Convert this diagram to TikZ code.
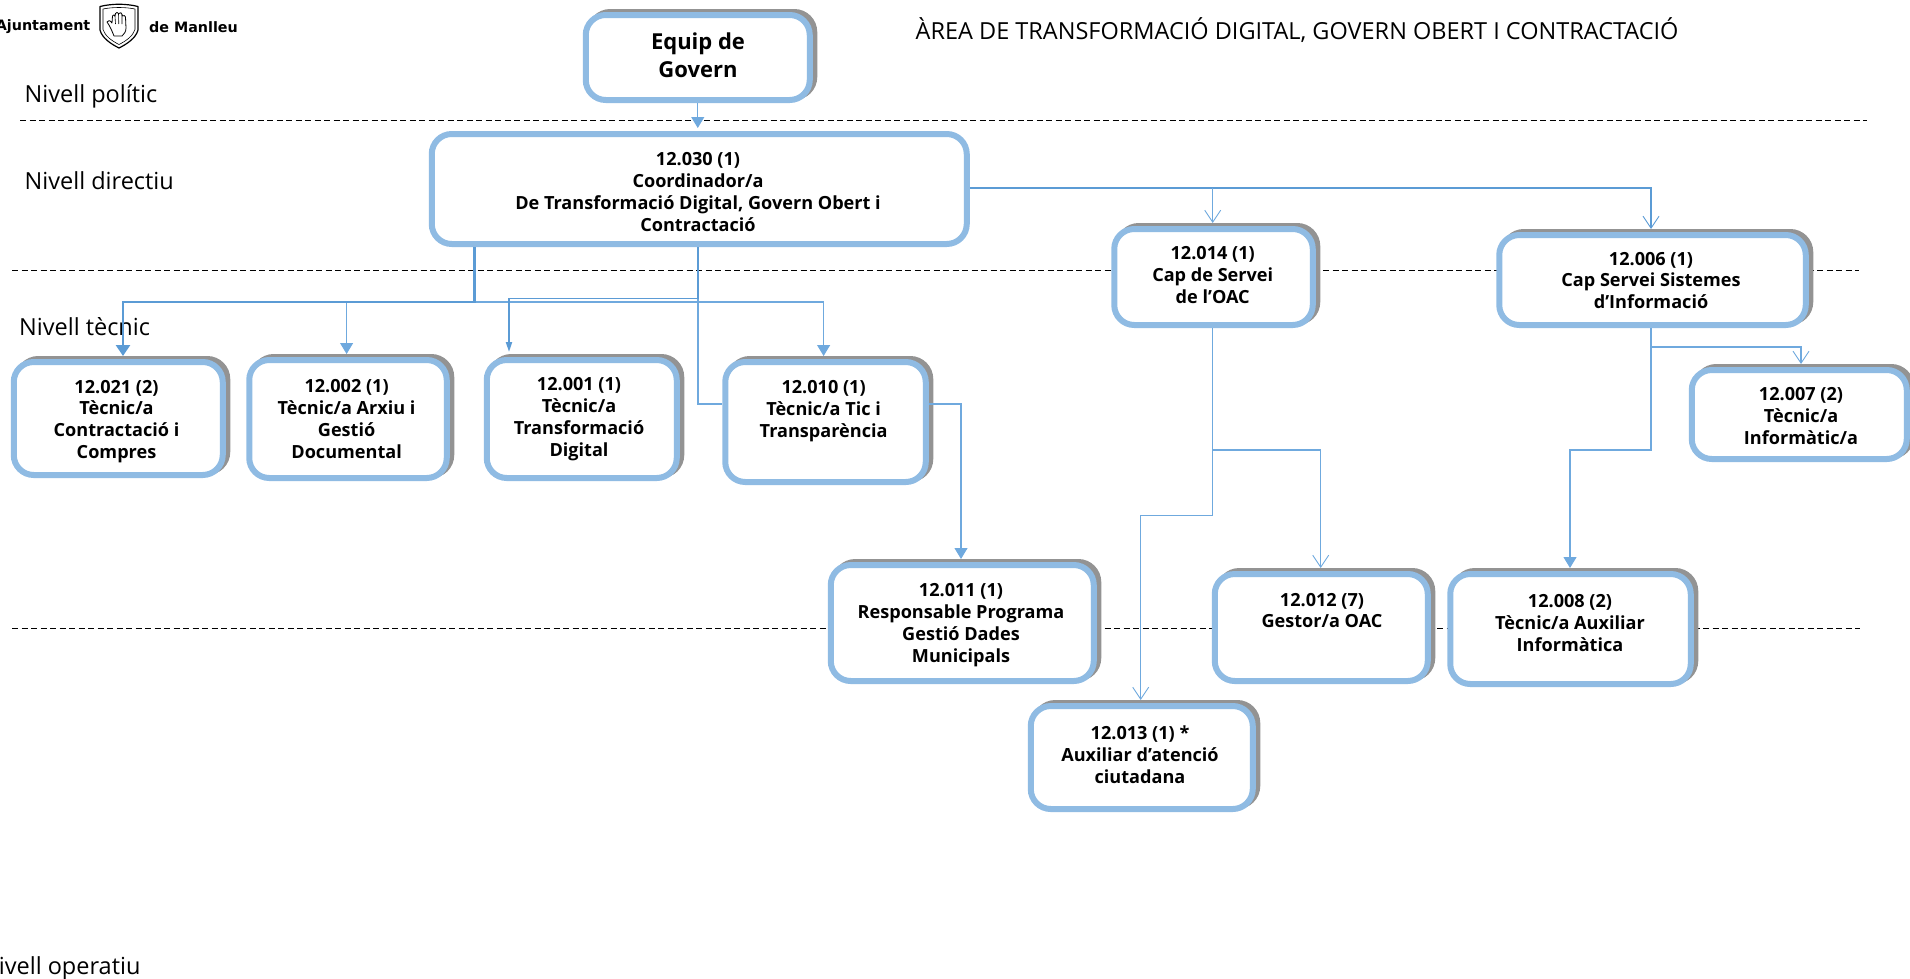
\documentclass[tikz,border=0pt]{standalone}
\usepackage{fontspec}
\setmainfont{Open Sans}
\newfontfamily\logofont{DejaVu Sans}
\usetikzlibrary{arrows.meta,shadows}
\definecolor{boxblue}{HTML}{8FBBE3}
\definecolor{connblue}{HTML}{5B9BD5}
\definecolor{thinblue}{HTML}{6FA9DE}
\definecolor{shadowgrey}{HTML}{939393}
\tikzset{
  boxplain/.style={draw=boxblue,line width=6pt,fill=white,rounded corners=20pt,inner sep=0pt},
  boxs/.style={boxplain,copy shadow={shadow xshift=4.5pt,shadow yshift=3pt,draw=shadowgrey,fill=shadowgrey}},
  boxtext/.style={align=center,font=\bfseries\fontsize{18.1}{21.9}\selectfont,inner sep=0pt},
  leveltext/.style={anchor=west,font=\fontsize{23.5}{28}\selectfont,inner sep=0pt},
  levelline/.style={draw=black,line width=1pt,dash pattern=on 6pt off 3.5pt},
  conn/.style={draw=thinblue,line width=1.1pt},
  filledtip/.style={-{Triangle[width=13pt,length=11pt]},shorten >=3pt},
  opentip/.style={-{Straight Barb[width=16pt,length=12pt,line width=.9pt]},shorten >=3pt},
  heavy/.style={draw=connblue,line width=2.6pt,-{Triangle[width=14pt,length=11pt]},shorten >=3pt},
  medium/.style={draw=connblue,line width=1.8pt,-{Triangle[width=6pt,length=10pt]},shorten >=5pt},
  logotext/.style={font=\logofont\bfseries\fontsize{14.3}{17}\selectfont,inner sep=0pt}
}
\newcommand\orgbox[9][boxs]{%
  \node[#1,minimum width={(#5-#3+1.5)*1pt},minimum height={(#6-#4)*1pt}] (#2) at ({(#3+#5)/2},{(#4+#6)/2}) {};
  \node[boxtext] (#2t) at (#7,#8) {#9};
}
\begin{document}
\begin{tikzpicture}[x=1pt,y=-1pt]
\useasboundingbox (0,0) rectangle (1910,978);
% level lines
\coordinate (la) at (20,120); \coordinate (lb) at (1867,120);
\coordinate (lc) at (12,270); \coordinate (ld) at (1859,270);
\coordinate (le) at (12,628); \coordinate (lf) at (1860,628);
\draw[levelline] (la) -- (lb);
\draw[levelline] (lc) -- (ld);
\draw[levelline] (le) -- (lf);
% logo
\node[logotext,anchor=east] (logoa) at (90.5,27) {Ajuntament};
\node[logotext,anchor=west] (logob) at (149,27) {de Manlleu};
\draw[line width=1.2pt,line join=round] (100,6.5) .. controls (112,3.5) and (126,3.5) .. (138,6.5) -- (138,30) .. controls (136,38) and (127,44) .. (119,48) .. controls (111,44) and (102,38) .. (100,30) -- cycle;
\draw[line width=.6pt,line join=round] (103,9) .. controls (113,7) and (125,7) .. (135,9) -- (135,29.5) .. controls (133,36) and (126,41) .. (119,44.5) .. controls (112,41) and (105,36) .. (103,29.5) -- cycle;
\draw[line width=.8pt,line join=round,fill=white] (114,36) .. controls (112,31) and (110,26) .. (107,22) .. controls (108,20) and (110,20) .. (112,23) -- (112.5,16) .. controls (113,14.5) and (115,14.5) .. (115,16) -- (115.5,13.5) .. controls (116,12) and (118,12) .. (118.5,13.5) -- (119,13.5) .. controls (120,12) and (122,12.5) .. (122,14.5) -- (122.5,16) .. controls (123.5,15) and (125.5,15.5) .. (125.5,17) -- (126,28) .. controls (126,32) and (124,34) .. (122,36) -- cycle;
\draw[line width=.6pt] (115,16) -- (115.5,24) (118.5,13.5) -- (118.8,24) (122,14.5) -- (122,24);
% level labels
\node[leveltext] (lv1) at (24.5,96) {Nivell polític};
\node[leveltext] (lv2) at (24.5,181) {Nivell directiu};
\node[leveltext] (lv3) at (19,327) {Nivell tècnic};
\node[leveltext] (lv4) at (-19,968) {Nivell operatiu};
\node[leveltext] (title) at (915.5,30) {ÀREA DE TRANSFORMACIÓ DIGITAL, GOVERN OBERT I CONTRACTACIÓ};
% boxes
\node[boxs,minimum width=224pt,minimum height=85pt] (eq) at (697.75,57.5) {};
\node[boxtext,font=\bfseries\fontsize{22}{27.6}\selectfont] (eqt) at (698,55.5) {Equip de\\Govern};
\orgbox[boxplain]{c030}{432.5}{134}{966}{244}{698}{192}{12.030 (1)\\Coordinador/a\\De Transformació Digital, Govern Obert i\\Contractació}
\orgbox{c021}{14.5}{362}{222}{475}{116.5}{421.5}{12.021 (2)\\Tècnic/a\\Contractació i\\Compres}
\orgbox{c002}{250}{360}{446}{478}{346.6}{419}{12.002 (1)\\Tècnic/a Arxiu i\\Gestió\\Documental}
\orgbox{c001}{487.5}{360}{676}{478}{579}{419}{12.001 (1)\\Tècnic/a\\Transformació\\Digital}
\orgbox{c010}{726}{362}{925}{482}{823.6}{411.5}{12.010 (1)\\Tècnic/a Tic i\\Transparència}
\orgbox{c014}{1115}{229}{1312}{325}{1212.7}{275}{12.014 (1)\\Cap de Servei\\de l’OAC}
\orgbox{c006}{1500}{235}{1805}{325}{1651}{280.5}{12.006 (1)\\Cap Servei Sistemes\\d’Informació}
\orgbox{c007}{1692.5}{370}{1906}{459}{1801}{416}{12.007 (2)\\Tècnic/a\\Informàtic/a}
\orgbox{c011}{831.5}{565}{1093}{681}{961}{625}{12.011 (1)\\Responsable Programa\\Gestió Dades\\Municipals}
\orgbox{c012}{1215.5}{574}{1427}{681}{1322}{610.5}{12.012 (7)\\Gestor/a OAC}
\orgbox{c008}{1451}{574}{1690}{684}{1570}{623}{12.008 (2)\\Tècnic/a Auxiliar\\Informàtica}
\orgbox{c013}{1031.5}{706}{1252}{809}{1140}{755}{12.013 (1) *\\Auxiliar d’atenció\\ciutadana}
% junctions
\coordinate (j1) at (474.6,302);
\coordinate (k1) at (123,302);
\coordinate (k2) at (346.6,302);
\coordinate (k4) at (698,302);
\coordinate (k5) at (823.6,302);
\coordinate (j2) at (698,298.5);
\coordinate (k3) at (509,298.5);
\coordinate (j3) at (698,404);
\coordinate (k6) at (961,404);
\coordinate (h1) at (1651,188);
\coordinate (h2) at (1212.7,188);
\coordinate (m1) at (1212.7,515.7);
\coordinate (m2) at (1140.7,515.7);
\coordinate (m3) at (1212.7,450);
\coordinate (m4) at (1320.7,450);
\coordinate (n1) at (1651,450);
\coordinate (n2) at (1570,450);
\coordinate (n3) at (1651,347);
\coordinate (n4) at (1801,347);
% connectors
\draw[conn,filledtip] (eq.south) -- (eq.south |- c030.north);
\draw[conn] (j1) -- (k4);
\draw[conn,filledtip] (k4) -- (k5) -- (k5 |- c010.north);
\draw[conn,filledtip] (k2) -- (k2 |- c002.north);
\draw[heavy] (j1 |- c030.south) -- (j1) -- (k1) -- (k1 |- c021.north);
\draw[medium] (j2 |- c030.south) -- (j2) -- (k3) -- (k3 |- c001.north);
\draw[conn] (j2) -- (j3) -- (j3 -| c010.west);
\draw[conn,filledtip] (j3 -| c010.east) -- (k6) -- (k6 |- c011.north);
\draw[conn,draw=connblue,opentip] (h1 -| c030.east) -- (h1) -- (h1 |- c006.north);
\draw[conn,opentip] (h2) -- (h2 |- c014.north);
\draw[conn,opentip] (h2 |- c014.south) -- (m1) -- (m2) -- (m2 |- c013.north);
\draw[conn,opentip] (m3) -- (m4) -- (m4 |- c012.north);
\draw[conn,filledtip] (h1 |- c006.south) -- (n1) -- (n2) -- (n2 |- c008.north);
\draw[conn,opentip] (n3) -- (n4) -- (n4 |- c007.north);
\end{tikzpicture}
\end{document}
